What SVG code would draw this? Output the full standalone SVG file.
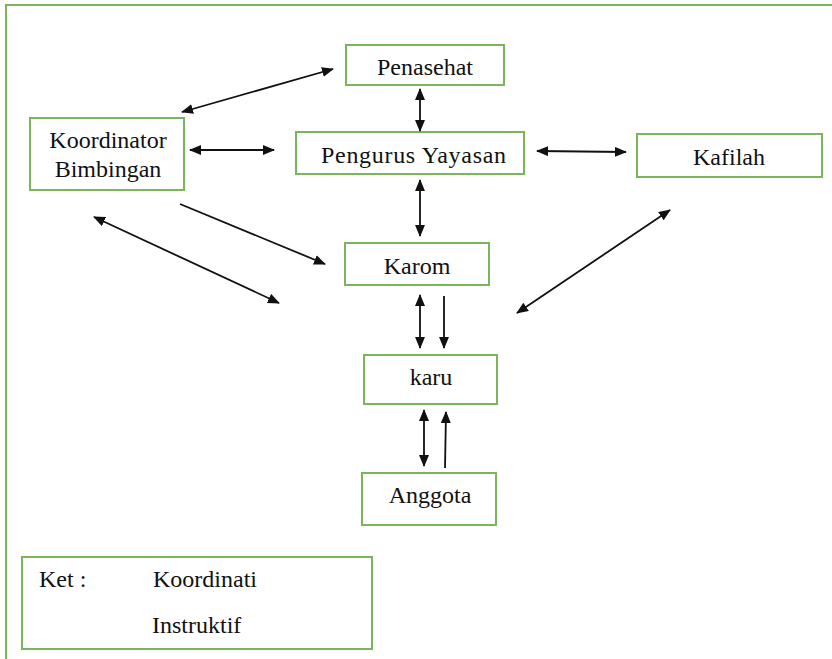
<svg xmlns="http://www.w3.org/2000/svg" width="832" height="659" viewBox="0 0 832 659">
<style>
.box{fill:#fff;stroke:#7ab55c;stroke-width:2}
.a{stroke:#111;stroke-width:1.8;fill:none}
</style>
<defs>
<marker id="ah" viewBox="0 0 12 10" refX="11" refY="5" markerWidth="12" markerHeight="10" markerUnits="userSpaceOnUse" orient="auto-start-reverse">
<path d="M0,0 L12,5 L0,10 z" fill="#111"/>
</marker>
</defs>
<rect width="832" height="659" fill="#fff"/>
<path d="M6,659 V5 H832" fill="none" stroke="#7ab55c" stroke-width="2"/>
<g font-family="Liberation Serif" font-size="24" fill="#111" text-anchor="middle">
<g id="penasehat"><rect class="box" x="346" y="45" width="158" height="40"/><text x="425" y="75">Penasehat</text></g>
<g id="pengurus"><rect class="box" x="296" y="132" width="228" height="42"/><text x="321" y="163" text-anchor="start" textLength="185" lengthAdjust="spacing">Pengurus Yayasan</text></g>
<g id="koordinator"><rect class="box" x="30" y="118" width="154" height="72"/><text x="108" y="148">Koordinator</text><text x="108" y="177">Bimbingan</text></g>
<g id="kafilah"><rect class="box" x="637" y="134" width="185" height="43"/><text x="729" y="165">Kafilah</text></g>
<g id="karom"><rect class="box" x="345" y="243" width="144" height="42"/><text x="417" y="274">Karom</text></g>
<g id="karu"><rect class="box" x="364" y="355" width="133" height="49"/><text x="431" y="385">karu</text></g>
<g id="anggota"><rect class="box" x="362" y="473" width="134" height="52"/><text x="430" y="503">Anggota</text></g>
<g id="legend" text-anchor="start"><rect class="box" x="22" y="557" width="350" height="92"/><text x="39" y="587">Ket :</text><text x="153" y="587">Koordinati</text><text x="152" y="633">Instruktif</text></g>
</g>
<g id="connectors">
<line class="a" x1="182" y1="112" x2="333" y2="69" marker-start="url(#ah)" marker-end="url(#ah)"/>
<line class="a" x1="420" y1="89" x2="420" y2="131" marker-start="url(#ah)" marker-end="url(#ah)"/>
<line class="a" x1="190" y1="150" x2="274" y2="150" marker-start="url(#ah)" marker-end="url(#ah)"/>
<line class="a" x1="537" y1="151" x2="626" y2="152" marker-start="url(#ah)" marker-end="url(#ah)"/>
<line class="a" x1="420" y1="180" x2="420" y2="236" marker-start="url(#ah)" marker-end="url(#ah)"/>
<line class="a" x1="180" y1="204" x2="325" y2="264" marker-end="url(#ah)"/>
<line class="a" x1="94" y1="217" x2="279" y2="303" marker-start="url(#ah)" marker-end="url(#ah)"/>
<line class="a" x1="670" y1="210" x2="517" y2="313" marker-start="url(#ah)" marker-end="url(#ah)"/>
<line class="a" x1="420" y1="295" x2="420" y2="348" marker-start="url(#ah)" marker-end="url(#ah)"/>
<line class="a" x1="444" y1="296" x2="444" y2="348" marker-end="url(#ah)"/>
<line class="a" x1="424" y1="410" x2="424" y2="466" marker-start="url(#ah)" marker-end="url(#ah)"/>
<line class="a" x1="445" y1="468" x2="446" y2="412" marker-end="url(#ah)"/>
</g>
</svg>
